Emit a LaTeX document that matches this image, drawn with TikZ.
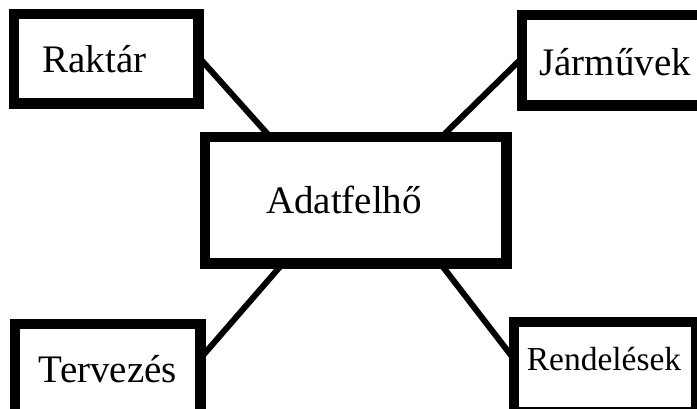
\documentclass[tikz,border=0pt]{standalone}
\usepackage{fontspec}
\setmainfont{Liberation Serif}
\usetikzlibrary{calc}
\tikzset{
  box/.style={draw=black, line width=7pt, fill=white, inner sep=0pt, rectangle},
  link/.style={draw=black, line width=6pt},
  lbl/.style={anchor=base, inner sep=0pt, font=\fontsize{39}{39}\selectfont},
  lblsmall/.style={anchor=base, inner sep=0pt, font=\fontsize{33.5}{33.5}\selectfont}
}
\begin{document}
\begin{tikzpicture}[x=1pt,y=-1pt]
\useasboundingbox (0,0) rectangle (697,408);
\clip (0,0) rectangle (697,408);
\fill[white] (0,0) rectangle (697,408);
% boxes
\node[box, minimum width=181pt, minimum height=86pt] (rak) at (106,58.5) {};
\node[box, minimum width=181pt, minimum height=87pt] (jar) at (614,60) {};
\node[box, minimum width=298pt, minimum height=123pt] (ad) at (355.5,200) {};
\node[box, minimum width=182pt, minimum height=87pt] (terv) at (107.5,369) {};
\node[box, minimum width=179pt, minimum height=87pt] (rend) at (605,367) {};
% connectors
\draw[link] (rak.east) -- ([xshift=65.5pt]ad.north west);
\draw[link] (jar.west) -- ([xshift=-64.5pt]ad.north east);
\draw[link] ([yshift=-34.5pt]terv.north east) -- ([xshift=78.5pt]ad.south west);
\draw[link] ([yshift=-36.5pt]rend.north west) -- ([xshift=-66.5pt]ad.south east);
% redraw borders on top
\draw[line width=7pt] (rak.north west) rectangle (rak.south east);
\draw[line width=7pt] (jar.north west) rectangle (jar.south east);
\draw[line width=7pt] (ad.north west) rectangle (ad.south east);
\draw[line width=7pt] (terv.north west) rectangle (terv.south east);
\draw[line width=7pt] (rend.north west) rectangle (rend.south east);
% labels
\node[lbl] (trak) at (94.5,72) {Raktár};
\node[lbl] (tjar) at (615,75) {Járművek};
\node[lbl] (tad) at (344,213) {Adatfelhő};
\node[lbl] (tterv) at (108,382) {Tervezés};
\node[lblsmall] (trend) at (604,370) {Rendelések};
\end{tikzpicture}
\end{document}
